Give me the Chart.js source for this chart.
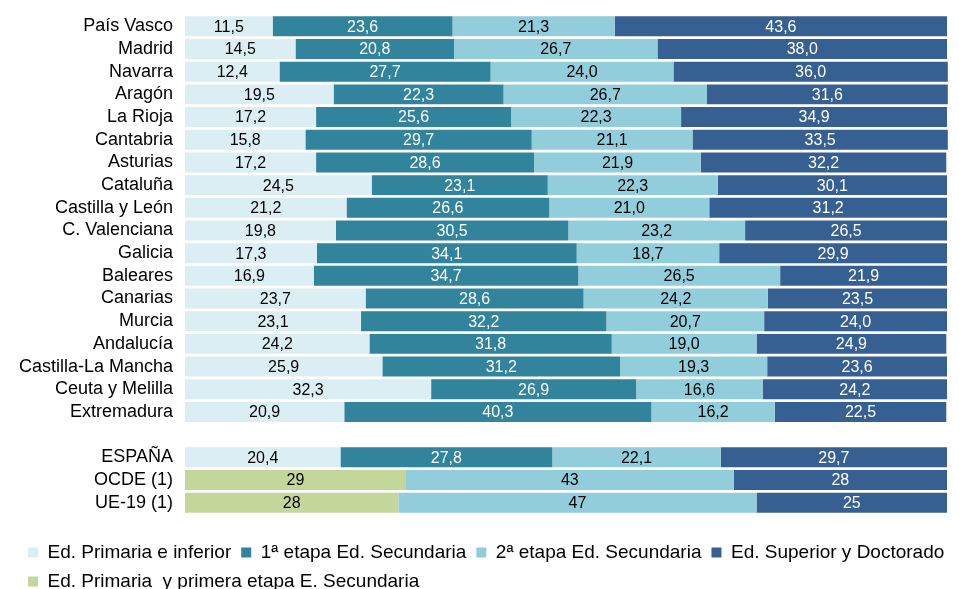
<!DOCTYPE html>
<html>
<head>
<meta charset="utf-8">
<script src="https://cdn.jsdelivr.net/npm/chart.js@4"></script>
<style>
  body { margin: 0; background: #fff; }
  #wrap { width: 959px; height: 589px; position: relative; }
</style>
</head>
<body>
<div id="wrap"><canvas id="eduChart"></canvas></div>
<script>
// categories (empty label = spacer row)
const regions = ["País Vasco", "Madrid", "Navarra", "Aragón", "La Rioja", "Cantabria", "Asturias",
  "Cataluña", "Castilla y León", "C. Valenciana", "Galicia", "Baleares", "Canarias", "Murcia",
  "Andalucía", "Castilla-La Mancha", "Ceuta y Melilla", "Extremadura", "", "ESPAÑA", "OCDE (1)", "UE-19 (1)"];

const primaria   = [11.5, 14.5, 12.4, 19.5, 17.2, 15.8, 17.2, 24.5, 21.2, 19.8, 17.3, 16.9, 23.7, 23.1, 24.2, 25.9, 32.3, 20.9, null, 20.4, null, null];
const etapa1     = [23.6, 20.8, 27.7, 22.3, 25.6, 29.7, 28.6, 23.1, 26.6, 30.5, 34.1, 34.7, 28.6, 32.2, 31.8, 31.2, 26.9, 40.3, null, 27.8, null, null];
const etapa2     = [21.3, 26.7, 24.0, 26.7, 22.3, 21.1, 21.9, 22.3, 21.0, 23.2, 18.7, 26.5, 24.2, 20.7, 19.0, 19.3, 16.6, 16.2, null, 22.1, 43, 47];
const superior   = [43.6, 38.0, 36.0, 31.6, 34.9, 33.5, 32.2, 30.1, 31.2, 26.5, 29.9, 21.9, 23.5, 24.0, 24.9, 23.6, 24.2, 22.5, null, 29.7, 28, 25];
const primYEtapa1 = [null, null, null, null, null, null, null, null, null, null, null, null, null, null, null, null, null, null, null, null, 29, 28];

// rows shown without decimals
const integerRows = ["OCDE (1)", "UE-19 (1)"];

const FONT = "'Liberation Sans', Arial, sans-serif";

const datasets = [
  { label: "Ed. Primaria  y primera etapa E. Secundaria", data: primYEtapa1, backgroundColor: "#C4D79B", textColor: "#000", rank: 4 },
  { label: "Ed. Primaria e inferior", data: primaria, backgroundColor: "#DBEEF3", textColor: "#000", rank: 0 },
  { label: "1ª etapa Ed. Secundaria", data: etapa1, backgroundColor: "#31849B", textColor: "#fff", rank: 1 },
  { label: "2ª etapa Ed. Secundaria", data: etapa2, backgroundColor: "#92CDDC", textColor: "#000", rank: 2 },
  { label: "Ed. Superior y Doctorado", data: superior, backgroundColor: "#376092", textColor: "#fff", rank: 3 }
];

// draws the value inside each bar segment
const segmentLabels = {
  id: "segmentLabels",
  afterDatasetsDraw(chart) {
    const ctx = chart.ctx;
    ctx.save();
    ctx.font = "16px " + FONT;
    ctx.textAlign = "center";
    ctx.textBaseline = "middle";
    chart.data.datasets.forEach((ds, i) => {
      const meta = chart.getDatasetMeta(i);
      meta.data.forEach((bar, j) => {
        const v = ds.data[j];
        if (v == null) return;
        const txt = integerRows.includes(regions[j]) ? String(v) : v.toFixed(1).replace(".", ",");
        ctx.fillStyle = ds.textColor;
        ctx.fillText(txt, (bar.x + bar.base) / 2, bar.y + 1);
      });
    });
    ctx.restore();
  }
};

new Chart(document.getElementById("eduChart"), {
  type: "bar",
  data: { labels: regions, datasets },
  plugins: [segmentLabels],
  options: {
    indexAxis: "y",
    responsive: true,
    maintainAspectRatio: false,
    animation: false,
    layout: { padding: { top: 15, right: 0, left: 18, bottom: -12 } },
    datasets: { bar: { barPercentage: 0.88, categoryPercentage: 1.0, borderWidth: 0 } },
    scales: {
      // max a bit over 100 leaves the white margin at the right of the bars
      x: { stacked: true, min: 0, max: 101.57, display: false },
      y: {
        stacked: true,
        grid: { display: false, drawTicks: false },
        border: { display: false },
        ticks: { color: "#000", padding: 12, autoSkip: false, font: { family: FONT, size: 18 } },
        afterFit(scale) {
          scale.width = 167;
          scale.paddingTop = 0;
          scale.paddingBottom = 0;
        }
      }
    },
    plugins: {
      tooltip: { enabled: false },
      legend: {
        position: "bottom",
        align: "start",
        title: { display: true, text: " ", padding: 7, font: { size: 5, lineHeight: 1 } },
        labels: {
          color: "#000",
          boxWidth: 10,
          boxHeight: 10,
          padding: 10,
          font: { family: FONT, size: 19 },
          sort: (a, b) => datasets[a.datasetIndex].rank - datasets[b.datasetIndex].rank
        }
      }
    }
  }
});
</script>
</body>
</html>
